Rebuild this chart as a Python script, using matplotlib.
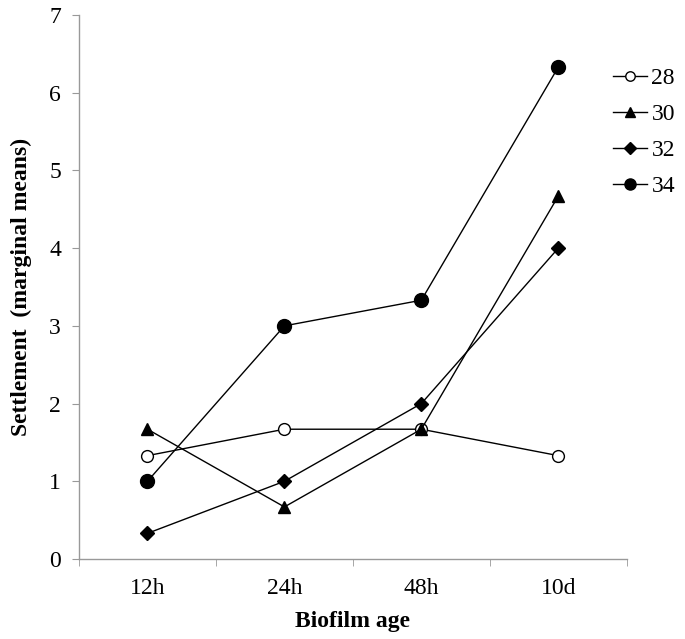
import matplotlib.pyplot as plt

# dados
idades = ["12h", "24h", "48h", "10d"]
s28 = [1.33, 1.67, 1.67, 1.33]
s30 = [1.67, 0.67, 1.67, 4.67]
s32 = [0.33, 1.0, 2.0, 4.0]
s34 = [1.0, 3.0, 3.33, 6.33]

plt.rcParams['font.family'] = ['Liberation Serif', 'DejaVu Serif']

fig = plt.figure(figsize=(6.85, 6.39), dpi=100)
ax = fig.add_axes([0.1153, 0.1252, 0.7997, 0.8513])

x = range(len(idades))
ax.plot(x, s28, color="black", lw=1, marker="o", ms=8.5, mfc="white", mec="black", mew=1, label="28")
ax.plot(x, s30, color="black", lw=1, marker="^", ms=8.5, label="30")
ax.plot(x, s32, color="black", lw=1, marker="D", ms=7.5, label="32")
ax.plot(x, s34, color="black", lw=1, marker="o", ms=10, label="34")

ax.set_xlim(-0.5, 3.5)
ax.set_ylim(0, 7)
ax.set_yticks(range(8))
ax.set_xticks(list(x))
ax.set_xticklabels(idades)
ax.set_xticks([-0.5, 0.5, 1.5, 2.5, 3.5], minor=True)
ax.tick_params(axis="x", which="major", length=0, pad=14, labelsize=17)
ax.tick_params(axis="x", which="minor", length=5, color="#999999", direction="out")
ax.tick_params(axis="y", length=5, color="#999999", labelsize=17, pad=8)

for s in ["top", "right"]:
    ax.spines[s].set_visible(False)
for s in ["left", "bottom"]:
    ax.spines[s].set_color("#999999")
    ax.spines[s].set_linewidth(1)

ax.set_xlabel("Biofilm age", fontsize=17, fontweight="bold", labelpad=8)
ax.set_ylabel("Settlement  (marginal means)", fontsize=17, fontweight="bold", labelpad=12)

ax.legend(loc="upper left", bbox_to_anchor=(0.974, 0.904), frameon=False, fontsize=17,
          handlelength=1.45, handletextpad=0.2, labelspacing=0.62, borderaxespad=0,
          borderpad=0, markerscale=0.8)

fig.savefig("out.png", dpi=100)
